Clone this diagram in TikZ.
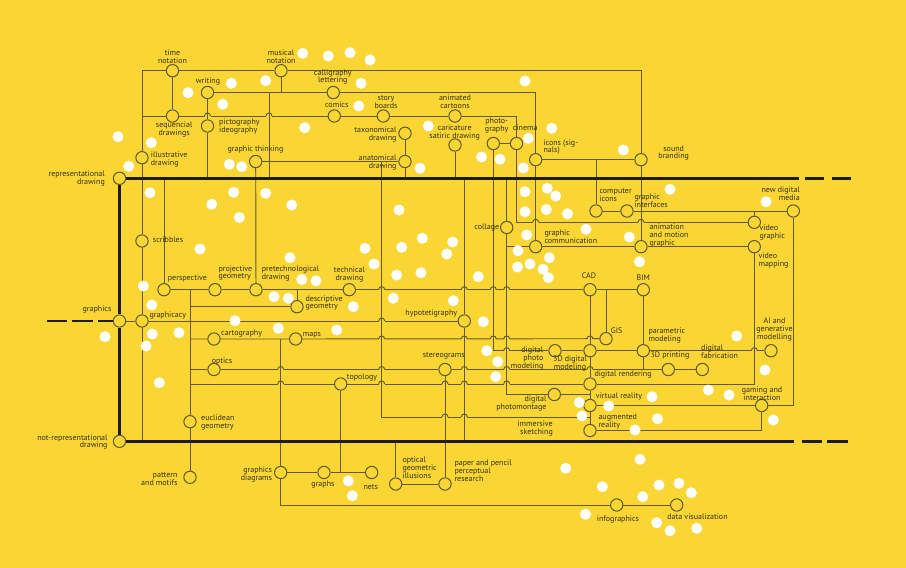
\documentclass[tikz,border=0pt]{standalone}
\usepackage{fontspec}
\setmainfont{PT Sans}
\definecolor{bg}{HTML}{F9D634}
\definecolor{linec}{HTML}{625A2E}
\definecolor{thickc}{HTML}{1E1B10}
\definecolor{txtc}{HTML}{36301C}
\begin{document}
\begin{tikzpicture}[x=1pt,y=-1pt,
  ln/.style={draw=linec, line width=0.95pt},
  thk/.style={draw=thickc, line width=2.4pt},
  nd/.style={circle, draw=linec, line width=1.05pt, fill=bg, minimum size=12.3pt, inner sep=0pt},
  lbl/.style={text=txtc, font=\fontsize{8}{7.9}\selectfont, inner sep=0pt, align=center},
  dot/.style={fill=white}]
\useasboundingbox (0,0) rectangle (906,568);
\fill[bg] (0,0) rectangle (906,568);
% ---------- nodes ----------
\node[nd] (time) at (172.5,70.7) {};
\node[nd] (musical) at (281,70.7) {};
\node[nd] (writing) at (207.5,92.5) {};
\node[nd] (calli) at (333.3,92.5) {};
\node[nd] (seq) at (172.5,116) {};
\node[nd] (picto) at (207.5,126) {};
\node[nd] (comics) at (334.3,116) {};
\node[nd] (story) at (383.3,116) {};
\node[nd] (anim) at (455,116) {};
\node[nd] (taxo) at (405,133.3) {};
\node[nd] (anat) at (405,161.5) {};
\node[nd] (cari) at (455,145) {};
\node[nd] (photo) at (493.3,143.5) {};
\node[nd] (cinema) at (516.5,143.5) {};
\node[nd] (icons) at (535.7,159.7) {};
\node[nd] (sound) at (641,159.7) {};
\node[nd] (illus) at (142,157.7) {};
\node[nd] (gthink) at (255.7,161.5) {};
\node[nd] (repr) at (119.5,178.3) {};
\node[nd] (comp) at (596,211) {};
\node[nd] (gint) at (627,211) {};
\node[nd] (newdm) at (793.3,211) {};
\node[nd] (vgraph) at (754.3,222.3) {};
\node[nd] (collage) at (506.7,227.5) {};
\node[nd] (gcomm) at (535.7,246.7) {};
\node[nd] (animg) at (641,246.7) {};
\node[nd] (vmap) at (754.3,246.7) {};
\node[nd] (scrib) at (142,241) {};
\node[nd] (persp) at (164,289.7) {};
\node[nd] (proj) at (215,289.7) {};
\node[nd] (pretech) at (256,289.7) {};
\node[nd] (tech) at (349.3,289.7) {};
\node[nd] (cad) at (590,289.7) {};
\node[nd] (bim) at (643.3,289.7) {};
\node[nd] (desc) at (297,306.7) {};
\node[nd] (graphics) at (119.5,321) {};
\node[nd] (gcy) at (142,321) {};
\node[nd] (hypo) at (464.3,321) {};
\node[nd] (carto) at (214,339) {};
\node[nd] (maps) at (295.7,339) {};
\node[nd] (gis) at (606,338.7) {};
\node[nd] (dphoto) at (555,350.7) {};
\node[nd] (d3) at (590,350.7) {};
\node[nd] (param) at (643.3,350.7) {};
\node[nd] (ai) at (771,350.7) {};
\node[nd] (optics) at (214,369.5) {};
\node[nd] (stereo) at (445,369.5) {};
\node[nd] (p3d) at (668.3,369.5) {};
\node[nd] (dfab) at (702.3,369.5) {};
\node[nd] (topo) at (340.7,384) {};
\node[nd] (drend) at (590,384) {};
\node[nd] (dmont) at (554.3,394.5) {};
\node[nd] (vr) at (590,405.5) {};
\node[nd] (gaming) at (761.7,405.5) {};
\node[nd] (eucl) at (190,421.7) {};
\node[nd] (ar) at (590,430.5) {};
\node[nd] (notrep) at (119.5,441.3) {};
\node[nd] (gdiag) at (280.7,472.5) {};
\node[nd] (graphs) at (324,472.5) {};
\node[nd] (nets) at (371.7,472.5) {};
\node[nd] (pattern) at (190,477.3) {};
\node[nd] (optill) at (395.7,484) {};
\node[nd] (paper) at (445,484) {};
\node[nd] (info) at (616.7,505) {};
\node[nd] (dataviz) at (676.7,505) {};
\coordinate (jw) at (269,92.5);
\coordinate (jr) at (269,178.3);
\coordinate (imA) at (381.7,161.5);
\coordinate (imB) at (381.7,417);
\coordinate (rEnd) at (799,178.3);
\coordinate (nEnd) at (794,441.3);
% ---------- thin connectors ----------
\draw[ln] (illus) |- (time);
\draw[ln] (time) -- (musical);
\draw[ln] (musical) -| (sound);
\draw[ln] (time) -- (seq);
\draw[ln] (illus |- seq) -- (seq) -- (comics) -- (story) -- (anim);
\draw[ln] (anim) -| (cinema);
\draw[ln] (writing) -- (calli);
\draw[ln] (calli) -| (icons);
\draw[ln] (musical) -- (musical |- writing);
\draw[ln] (writing) -- (picto);
\draw[ln] (picto) -- (picto |- repr);
\draw[ln] (jw) -- (jr);
\draw[ln] (illus) -- (scrib) -- (gcy) -- (gcy |- notrep);
\draw[ln] (gthink) -- (anat);
\draw[ln] (gthink) -- (pretech);
\draw[ln] (taxo) -- (anat) -- (anat |- repr);
\draw[ln] (cari) -- (cari |- repr);
\draw[ln] (photo) -- (cinema);
\draw[ln] (photo) |- (dphoto);
\draw[ln] (cinema) |- (vgraph);
\draw[ln] (icons) -- (sound);
\draw[ln] (icons) -- (gcomm);
\draw[ln] (comp) -- (comp |- icons);
\draw[ln] (sound) -- (animg);
\draw[ln] (comp) -- (gint) -- (newdm);
\draw[ln] (vgraph) -- (vgraph |- newdm);
\draw[ln] (newdm) |- (gaming);
\draw[ln] (collage |- repr) -- (collage);
\draw[ln] (collage) |- (dmont);
\draw[ln] (collage |- gcomm) -- (gcomm) -- (animg) -- (vmap);
\draw[ln] (vmap) |- (drend);
\draw[ln] (persp |- repr) -- (persp);
\draw[ln] (persp) -- (proj) -- (pretech) -- (tech) -- (cad) -- (bim);
\draw[ln] (desc |- persp) -- (desc);
\draw[ln] (eucl |- persp) -- (eucl) -- (pattern);
\draw[ln] (eucl |- desc) -- (desc);
\draw[ln] (graphics) -- (gcy) -- (hypo);
\draw[ln] (eucl |- carto) -- (carto) -- (maps) -- (gis);
\draw[ln] (gis) -- (gis |- cad);
\draw[ln] (gdiag |- maps) -- (gdiag);
\draw[ln] (gdiag) |- (info);
\draw[ln] (info) -- (dataviz);
\draw[ln] (eucl |- optics) -- (optics) -- (stereo) -- (p3d) -- (dfab);
\draw[ln] (stereo) -- (paper);
\draw[ln] (eucl |- topo) -- (topo) -- (drend);
\draw[ln] (topo) -- (topo |- graphs);
\draw[ln] (gdiag) -- (graphs) -- (nets);
\draw[ln] (optill |- notrep) -- (optill) -- (paper);
\draw[ln] (hypo |- repr) -- (hypo) -- (hypo |- notrep);
\draw[ln] (imA) -- (imB) -- (ar |- imB);
\draw[ln] (cad) -- (d3) -- (drend) -- (vr) -- (ar);
\draw[ln] (dphoto) -- (d3) -- (param) -- (ai);
\draw[ln] (bim) -- (param) -- (param |- p3d);
\draw[ln] (dmont) -- (vr |- dmont);
\draw[ln] (vr) -- (gaming);
\draw[ln] (ar) -| (gaming);
% ---------- thick lines ----------
\draw[thk] (repr) -- (rEnd);
\draw[thk] (805,178.3) -- (824,178.3);
\draw[thk] (831.7,178.3) -- (851,178.3);
\draw[thk] (repr) -- (graphics) -- (notrep);
\draw[thk] (notrep) -- (nEnd);
\draw[thk] (801.7,441.3) -- (821.7,441.3);
\draw[thk] (827.3,441.3) -- (847.7,441.3);
\draw[thk] (47.3,321) -- (67.3,321);
\draw[thk] (71.7,321) -- (92.7,321);
\draw[thk] (98.3,321) -- (graphics);
% ---------- line hops ----------
\foreach \hx/\hy in {207.5/116, 269/116,
  381.7/289.7, 464.3/289.7, 493.3/289.7, 506.7/289.7,
  381.7/321,
  381.7/339, 464.3/339, 493.3/339, 506.7/339, 590/339,
  506.7/350.7, 754.3/350.7,
  280.7/369.5, 381.7/369.5, 464.3/369.5, 506.7/369.5, 590/369.5,
  280.7/384, 381.7/384, 445/384, 464.3/384, 506.7/384,
  445/417, 464.3/417,
  535.7/222.3, 641/222.3}{
  \fill[bg] (\hx-3,\hy-1.2) rectangle (\hx+3,\hy+1.2);
  \draw[ln] (\hx,\hy-1.6) -- (\hx,\hy+1.6);
  \draw[ln] (\hx-3,\hy) .. controls (\hx-3,\hy-4) and (\hx+3,\hy-4) .. (\hx+3,\hy);
}
% ---------- white dots ----------
\foreach \dx/\dy in {302.7/53.3, 328.3/56, 350/52.7, 370/60, 231.3/83.3, 265.7/80.7, 188/92.7,
  222.7/104.3, 361/83.3, 525/81, 358.7/106, 304.7/127.7, 118/136.7, 151.3/142.7, 128.7/166.3,
  229.3/164.3, 241.7/166.7, 428.3/126, 551.7/128.3, 528.3/138.3, 481.5/157, 500/159.3, 523.3/168,
  420/168.3, 623.3/150, 150/192.7, 233.7/192.3, 265.7/193.3, 211.7/204.3, 291.7/205, 239.3/217.5,
  399/210, 525/191.7, 547.3/188.3, 555.7/196, 546.3/209.5, 525/211.7, 567.5/213.7, 670/189.3,
  766/201.7, 586/229.3, 526.7/235, 629.3/237, 518/250.7, 549.3/257.7, 517.5/267, 530/264,
  543/269.2, 548.3/277.7, 639.5/261.7, 478.3/276.7, 365/248.3, 401.7/247.3, 422.3/238.3,
  452.7/242, 446.7/254, 374/264, 396.7/275, 421/272.7, 301.7/279.5, 316/280.8, 393.3/298.3,
  453.3/300.7, 353.3/306.7, 483.3/321.7, 336.7/330, 486.7/350.7, 497.7/361.7, 495.7/376.7,
  200/249, 290/257.7, 143.3/286, 274/296.7, 288.3/298.3, 151.7/305, 235/320.7, 278.3/328.3,
  105/336.7, 152.3/334, 179/332.7, 146/346, 159.3/382.7, 736.7/336, 765/370, 708.3/390,
  729/395, 652/396.7, 579.3/402.5, 608.7/406, 582/416, 657.5/418.8, 773.3/420, 635/430,
  640/459.3, 602.3/486.7, 659/485, 679/483.3, 691.3/492.7, 642.7/496.7, 585.5/514.2,
  656.7/522.7, 670/530.7, 696.7/528.3, 348.3/481, 352.3/495.7, 565.7/468.3}{
  \fill[dot] (\dx,\dy) circle (5.5pt);
}
% ---------- labels ----------
\node[lbl] (Ltime) at (172.5,57) {time\\notation};
\node[lbl] (Lmusical) at (281,56.5) {musical\\notation};
\node[lbl] (Lwriting) at (208,82) {writing};
\node[lbl] (Lcalli) at (332.8,77) {calligraphy\\lettering};
\node[lbl] (Lcomics) at (336.7,105) {comics};
\node[lbl] (Lstory) at (386,101.7) {story\\boards};
\node[lbl] (Lanim) at (455,102) {animated\\cartoons};
\node[lbl] (Lseq) at (174.2,129.7) {sequencial\\drawings};
\node[lbl,anchor=west,align=left] (Lpicto) at (219,126.5) {pictography\\ideography};
\node[lbl,anchor=east,align=right] (Ltaxo) at (396.7,134.7) {taxonomical\\drawing};
\node[lbl,anchor=east,align=right] (Lanat) at (396.7,162.2) {anatomical\\drawing};
\node[lbl] (Lcari) at (454.7,132.2) {caricature\\satiric drawing};
\node[lbl] (Lphoto) at (496.7,125.3) {photo-\\graphy};
\node[lbl] (Lcinema) at (525.3,127.3) {cinema};
\node[lbl,anchor=west,align=left] (Licons) at (543.3,147) {icons (sig-\\nals)};
\node[lbl] (Lsound) at (673.7,153) {sound\\branding};
\node[lbl,anchor=west,align=left] (Lillus) at (150.7,159.7) {illustrative\\drawing};
\node[lbl] (Lgthink) at (255.5,150) {graphic thinking};
\node[lbl,anchor=east,align=right] (Lrepr) at (105,178.8) {representational\\drawing};
\node[lbl,anchor=west,align=left] (Lcomp) at (599.3,195.4) {computer\\icons};
\node[lbl,anchor=west,align=left] (Lgint) at (634.3,200.3) {graphic\\interfaces};
\node[lbl,anchor=east,align=right] (Lnewdm) at (800,193.7) {new digital\\media};
\node[lbl,anchor=west,align=left] (Lvgraph) at (759.3,232.8) {video\\graphic};
\node[lbl,anchor=east] (Lcollage) at (499.3,227.7) {collage};
\node[lbl,anchor=west,align=left] (Lgcomm) at (544.3,236.7) {graphic\\communication};
\node[lbl,anchor=west,align=left] (Lanimg) at (649.3,235.6) {animation\\and motion\\graphic};
\node[lbl,anchor=west,align=left] (Lvmap) at (758.3,260.5) {video\\mapping};
\node[lbl,anchor=west] (Lscrib) at (152.7,239.3) {scribbles};
\node[lbl,anchor=west] (Lpersp) at (167.7,278.3) {perspective};
\node[lbl,anchor=west,align=left] (Lproj) at (218.3,273) {projective\\geometry};
\node[lbl,anchor=west,align=left] (Lpretech) at (261.7,273.8) {pretechnological\\drawing};
\node[lbl] (Ltech) at (349.5,274.6) {technical\\drawing};
\node[lbl] (Lcad) at (589,276) {CAD};
\node[lbl] (Lbim) at (643.3,277.3) {BIM};
\node[lbl,anchor=west,align=left] (Ldesc) at (305.3,303) {descriptive\\geometry};
\node[lbl] (Lgraphics) at (97,309.3) {graphics};
\node[lbl,anchor=west] (Lgcy) at (149.3,316) {graphicacy};
\node[lbl,anchor=east] (Lhypo) at (457.3,313.3) {hypotetigraphy};
\node[lbl,anchor=west] (Lcarto) at (221,334) {cartography};
\node[lbl,anchor=west] (Lmaps) at (302.7,335) {maps};
\node[lbl,anchor=west] (Lgis) at (610.7,330.7) {GIS};
\node[lbl,anchor=west,align=left] (Lparam) at (648.3,335.8) {parametric\\modeling};
\node[lbl] (Lai) at (774.5,329.5) {AI and\\generative\\modelling};
\node[lbl,anchor=east,align=right] (Ldphoto) at (543.5,358.3) {digital\\photo\\modeling};
\node[lbl] (Ld3) at (570,363.7) {3D digital\\modeling};
\node[lbl] (Lstereo) at (443.7,355.7) {stereograms};
\node[lbl] (Loptics) at (222,361) {optics};
\node[lbl,anchor=west] (Ltopo) at (346.7,377.7) {topology};
\node[lbl] (Lp3d) at (670,355.7) {3D printing};
\node[lbl,anchor=west,align=left] (Ldfab) at (701,351.7) {digital\\fabrication};
\node[lbl,anchor=west] (Ldrend) at (594.3,375) {digital rendering};
\node[lbl,anchor=east,align=right] (Ldmont) at (546.7,403.8) {digital\\photomontage};
\node[lbl,anchor=west] (Lvr) at (595.7,396) {virtual reality};
\node[lbl] (Lgaming) at (762,394) {gaming and\\interaction};
\node[lbl,anchor=east,align=right] (Limm) at (553,428.2) {immersive\\sketching};
\node[lbl,anchor=west,align=left] (Lar) at (598.3,421.3) {augmented\\reality};
\node[lbl,anchor=west,align=left] (Leucl) at (201,422.8) {euclidean\\geometry};
\node[lbl,anchor=east,align=right] (Lnotrep) at (107.7,442) {not-representational\\drawing};
\node[lbl,anchor=east,align=right] (Lgdiag) at (272.3,474.7) {graphics\\diagrams};
\node[lbl,anchor=east,align=right] (Lpattern) at (177.7,479) {pattern\\and motifs};
\node[lbl] (Lgraphs) at (323,485) {graphs};
\node[lbl] (Lnets) at (370.8,486.7) {nets};
\node[lbl,anchor=west,align=left] (Loptill) at (402.3,467.8) {optical\\geometric\\illusions};
\node[lbl,anchor=west,align=left] (Lpaper) at (454.3,470.8) {paper and pencil\\perceptual\\research};
\node[lbl] (Linfo) at (618,519.3) {infographics};
\node[lbl] (Ldata) at (697.5,516.7) {data visualization};
\end{tikzpicture}
\end{document}
